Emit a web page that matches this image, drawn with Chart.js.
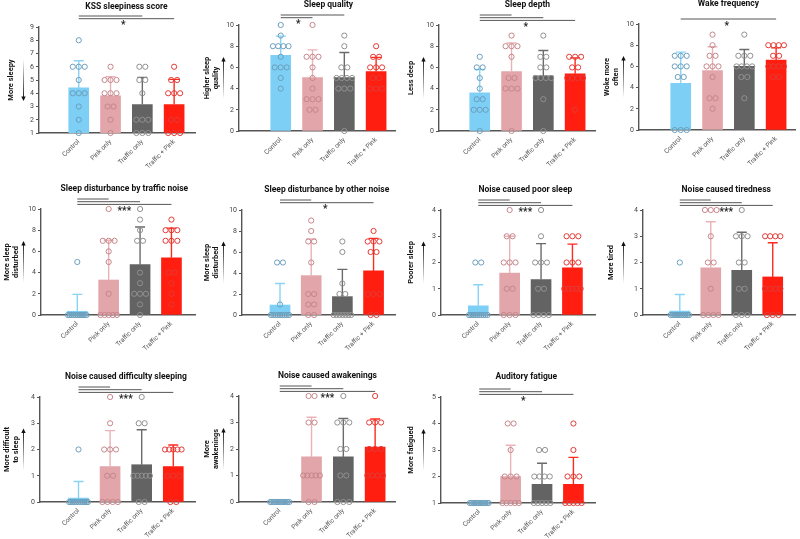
<!DOCTYPE html>
<html>
<head>
<meta charset="utf-8">
<script src="https://cdn.jsdelivr.net/npm/chart.js@4.4.0/dist/chart.umd.min.js"></script>
<style>
  body { margin: 0; background: #fff; width: 800px; height: 539px; overflow: hidden; position: relative; }
  canvas { position: absolute; }
</style>
</head>
<body>
<script>
const groups = ['Control', 'Pink only', 'Traffic only', 'Traffic + Pink'];
const barColors = ['#7ecff5', '#e2a6aa', '#636363', '#ff1e10'];
const errColors = ['#8ad3f6', '#e9b2b6', '#6b6b6b', '#ff2a1c'];
const dotColors = ['#6b9fbd', '#c6858b', '#909090', '#e33a35'];

// KSS sleepiness score
const kssMean = [4.4, 3.8, 3.15, 3.15];
const kssSD = [2.05, 1.45, 2.05, 1.9];
const kssPoints = [[8, 6, 6, 6, 5, 4, 4, 4, 3, 2, 1], [6, 5, 5, 5, 4, 4, 4, 3, 3, 2, 1], [6, 6, 5, 5, 4, 2, 2, 2, 1, 1, 1], [6, 5, 5, 4, 4, 4, 2, 2, 1, 1, 1]];

// Sleep quality
const qualityMean = [7.15, 5.05, 5.05, 5.6];
const qualitySD = [1.8, 2.6, 2.35, 1.35];
const qualityPoints = [[10, 9, 8, 8, 8, 8, 7, 6, 6, 6, 5, 4], [10, 7, 7, 7, 6, 5, 4, 3, 3, 3, 2, 2], [9, 8, 6, 6, 5, 5, 5, 5, 4, 4, 4, 0], [8, 7, 7, 6, 6, 6, 5, 5, 4, 4, 4]];

// Sleep depth
const depthMean = [3.6, 5.6, 5.2, 5.4];
const depthSD = [2.2, 2.7, 2.4, 1.5];
const depthPoints = [[7, 6, 6, 5, 4, 3, 3, 2, 2, 2, 0], [9, 8, 8, 8, 7, 5, 5, 4, 4, 4, 0], [9, 7, 7, 6, 6, 5, 5, 5, 5, 3, 0], [7, 7, 7, 6, 6, 5, 5, 5, 5, 2]];

// Wake frequency
const wakeMean = [4.4, 5.6, 6.0, 6.6];
const wakeSD = [2.95, 2.25, 1.6, 1.15];
const wakePoints = [[7, 7, 7, 6, 6, 6, 5, 5, 0, 0, 0], [9, 8, 7, 7, 6, 6, 6, 5, 3, 3, 2], [9, 7, 7, 7, 6, 6, 6, 6, 5, 5, 3], [8, 8, 8, 8, 7, 7, 6, 6, 6, 6, 5, 5]];

// Sleep disturbance by traffic noise
const trafficMean = [0.35, 3.3, 4.75, 5.4];
const trafficSD = [1.6, 3.75, 3.55, 2.8];
const trafficPoints = [[5, 0, 0, 0, 0, 0, 0, 0, 0, 0, 0, 0], [10, 7, 7, 7, 6, 5, 2, 0, 0, 0, 0, 0], [10, 9, 8, 7, 7, 4, 3, 2, 2, 2, 1, 0], [9, 8, 8, 8, 7, 7, 7, 4, 4, 3, 2, 1]];

// Sleep disturbance by other noise
const otherMean = [0.95, 3.75, 1.75, 4.2];
const otherSD = [2.05, 3.5, 2.6, 3.1];
const otherPoints = [[5, 5, 1, 0, 0, 0, 0, 0, 0, 0, 0, 0], [9, 8, 7, 7, 5, 2, 2, 1, 1, 0, 0], [7, 6, 3, 2, 2, 0, 0, 0, 0, 0, 0, 0], [8, 7, 7, 7, 6, 6, 2, 2, 2, 0, 0]];

// Noise caused poor sleep
const poorMean = [0.35, 1.6, 1.35, 1.8];
const poorSD = [0.8, 1.4, 1.37, 0.9];
const poorPoints = [[2, 2, 0, 0, 0, 0, 0, 0, 0, 0, 0, 0], [4, 3, 3, 2, 2, 2, 1, 1, 0, 0, 0], [4, 3, 2, 2, 2, 1, 1, 0, 0, 0, 0], [3, 3, 3, 2, 2, 2, 1, 1, 1, 1, 1]];

// Noise caused tiredness
const tiredMean = [0.15, 1.8, 1.7, 1.45];
const tiredSD = [0.63, 1.75, 1.45, 1.3];
const tiredPoints = [[2, 0, 0, 0, 0, 0, 0, 0, 0, 0, 0, 0], [4, 4, 4, 3, 2, 2, 1, 0, 0, 0, 0], [4, 3, 3, 3, 2, 2, 1, 1, 0, 0, 0], [3, 3, 3, 3, 1, 1, 1, 1, 0, 0, 0]];

// Noise caused difficulty sleeping
const difficultyMean = [0.15, 1.35, 1.42, 1.35];
const difficultySD = [0.63, 1.37, 1.33, 0.82];
const difficultyPoints = [[2, 0, 0, 0, 0, 0, 0, 0, 0, 0, 0, 0], [4, 3, 2, 2, 2, 1, 1, 0, 0, 0, 0], [4, 3, 3, 1, 1, 1, 1, 1, 0, 0], [2, 2, 2, 2, 2, 1, 1, 1, 0, 0]];

// Noise caused awakenings
const awakeMean = [0.03, 1.7, 1.7, 2.07];
const awakeSD = [0, 1.5, 1.45, 1.06];
const awakePoints = [[0, 0, 0, 0, 0, 0, 0, 0, 0, 0, 0, 0], [4, 4, 3, 3, 1, 1, 1, 1, 1, 0, 0], [4, 3, 3, 3, 2, 2, 1, 1, 0, 0, 0], [4, 3, 3, 3, 2, 2, 2, 1, 1, 1, 1]];

// Auditory fatigue
const fatigueMean = [1.02, 2.0, 1.7, 1.7];
const fatigueSD = [0, 1.18, 0.8, 1.02];
const fatiguePoints = [[1, 1, 1, 1, 1, 1, 1, 1, 1, 1, 1, 1], [4, 4, 3, 2, 2, 2, 1, 1, 1, 1, 1], [3, 3, 2, 2, 2, 2, 1, 1, 1, 1, 1], [4, 3, 2, 2, 2, 1, 1, 1, 1, 1]];

const panels = [
  { title: 'KSS sleepiness score', yTitle: ['More sleepy'], dir: 'down', mean: kssMean, sd: kssSD, pts: kssPoints,
    min: 1, max: 9, col: 0, row: 0, left: 39, ctrl: 79, top: 27, bottom: 133, brackets: [2, 3], bOff: 11, star: '*', starX: 1.4 },
  { title: 'Sleep quality', yTitle: ['Higher sleep', 'quality'], dir: 'up', mean: qualityMean, sd: qualitySD, pts: qualityPoints,
    min: 0, max: 10, col: 1, row: 0, left: 39, ctrl: 81, top: 25, bottom: 131, brackets: [2, 1], bOff: 10, star: '*', starX: 0.55 },
  { title: 'Sleep depth', yTitle: ['Less deep'], dir: 'up', mean: depthMean, sd: depthSD, pts: depthPoints,
    min: 0, max: 10, col: 2, row: 0, left: 39, ctrl: 80, top: 25, bottom: 131, brackets: [1, 2, 3], bOff: 10, star: '*', starX: 1.45 },
  { title: 'Wake frequency', yTitle: ['Woke more', 'often'], dir: 'up', mean: wakeMean, sd: wakeSD, pts: wakePoints,
    min: 0, max: 10, col: 3, row: 0, left: 39, ctrl: 81, top: 24, bottom: 130, brackets: [3], bOff: 5, star: '*', starX: 1.45 },
  { title: 'Sleep disturbance by traffic noise', yTitle: ['More sleep', 'disturbed'], dir: 'up', mean: trafficMean, sd: trafficSD, pts: trafficPoints,
    min: 0, max: 10, col: 0, row: 1, left: 41, ctrl: 78, top: 29, bottom: 135, brackets: [1, 2, 3], bOff: 10, star: '***', starX: 1.5 },
  { title: 'Sleep disturbance by other noise', yTitle: ['More sleep', 'disturbed'], dir: 'up', mean: otherMean, sd: otherSD, pts: otherPoints,
    min: 0, max: 10, col: 1, row: 1, left: 42, ctrl: 81, top: 30, bottom: 135, brackets: [1, 3], bOff: 10, star: '*', starX: 1.45 },
  { title: 'Noise caused poor sleep', yTitle: ['Poorer sleep'], dir: 'up', mean: poorMean, sd: poorSD, pts: poorPoints,
    min: 0, max: 4, col: 2, row: 1, left: 41, ctrl: 79, top: 30, bottom: 135, brackets: [1, 2, 3], bOff: 10, star: '***', starX: 1.5 },
  { title: 'Noise caused tiredness', yTitle: ['More tired'], dir: 'up', mean: tiredMean, sd: tiredSD, pts: tiredPoints,
    min: 0, max: 4, col: 3, row: 1, left: 43, ctrl: 81, top: 30, bottom: 135, brackets: [1, 2, 3], bOff: 10, star: '***', starX: 1.5 },
  { title: 'Noise caused difficulty sleeping', yTitle: ['More difficult', 'to sleep'], dir: 'up', mean: difficultyMean, sd: difficultySD, pts: difficultyPoints,
    min: 0, max: 4, col: 0, row: 2, left: 40, ctrl: 79, top: 37, bottom: 142, brackets: [1, 2, 3], bOff: 10, star: '***', starX: 1.5 },
  { title: 'Noise caused awakenings', yTitle: ['More', 'awakenings'], dir: 'up', mean: awakeMean, sd: awakeSD, pts: awakePoints,
    min: 0, max: 4, col: 1, row: 2, left: 39, ctrl: 80, top: 36, bottom: 142, brackets: [1, 2, 3], bOff: 10, star: '***', starX: 1.5 },
  { title: 'Auditory fatigue', yTitle: ['More fatigued'], dir: 'up', mean: fatigueMean, sd: fatigueSD, pts: fatiguePoints,
    min: 1, max: 5, col: 2, row: 2, left: 41, ctrl: 80, top: 37, bottom: 143, brackets: [1, 2, 3], bOff: 8, star: '*', starX: 1.4 }
];

const UNIT = 32;       // px between group centres
const FONT = 'Roboto, "Liberation Sans", Arial, sans-serif';

// spread repeated values sideways so the circles don't sit on top of each other
function swarm(values, g) {
  const counts = {};
  values.forEach(v => { counts[v] = (counts[v] || 0) + 1; });
  const seen = {};
  return values.map(v => {
    const k = counts[v];
    const i = seen[v] = (seen[v] === undefined ? 0 : seen[v] + 1);
    const step = Math.min(6, 21 / k);
    return { x: g + (i - (k - 1) / 2) * step / UNIT, y: v };
  });
}

function errorBarPlugin(p) {
  return {
    id: 'errorBars',
    afterDatasetDraw(chart, args) {
      if (args.meta.type !== 'bar') return;
      const ctx = chart.ctx, ys = chart.scales.y, xs = chart.scales.x;
      ctx.save();
      ctx.lineWidth = 1.4;
      p.mean.forEach((m, i) => {
        if (!p.sd[i]) return;
        const x = xs.getPixelForValue(i);
        const y0 = ys.getPixelForValue(m);
        const y1 = ys.getPixelForValue(m + p.sd[i]);
        ctx.strokeStyle = errColors[i];
        ctx.beginPath();
        ctx.moveTo(x, y0); ctx.lineTo(x, y1);
        ctx.moveTo(x - 5, y1); ctx.lineTo(x + 5, y1);
        ctx.stroke();
      });
      ctx.restore();
    }
  };
}

function decorPlugin(p) {
  return {
    id: 'decor',
    afterDraw(chart) {
      const ctx = chart.ctx, xs = chart.scales.x, area = chart.chartArea;
      ctx.save();
      // title
      ctx.fillStyle = '#111';
      ctx.font = 'bold 8.5px ' + FONT;
      ctx.textAlign = 'center';
      ctx.textBaseline = 'middle';
      ctx.fillText(p.title, xs.getPixelForValue(1.5), area.top - 20);

      // significance brackets
      const x0 = xs.getPixelForValue(0);
      ctx.strokeStyle = '#555';
      ctx.lineWidth = 1;
      let y = area.top - p.bOff;
      p.brackets.forEach((g, i) => {
        y = area.top - p.bOff + i * 2.7;
        ctx.beginPath();
        ctx.moveTo(x0, y); ctx.lineTo(xs.getPixelForValue(g), y);
        ctx.stroke();
      });
      ctx.font = 'bold 10px ' + FONT;
      ctx.fillStyle = '#222';
      ctx.fillText(p.star, xs.getPixelForValue(p.starX), y + 7);

      // y-axis label
      const cy = (area.top + area.bottom) / 2;
      ctx.font = 'bold 7.5px ' + FONT;
      ctx.fillStyle = '#111';
      ctx.translate(11.5, cy);
      ctx.rotate(-Math.PI / 2);
      p.yTitle.forEach((line, i) => {
        ctx.fillText(line, 0, (i - (p.yTitle.length - 1) / 2) * 8.5);
      });
      ctx.setTransform(1, 0, 0, 1, 0, 0);

      // arrow
      const ax = 23.5, tail = p.dir === 'up' ? cy + 21 : cy - 21, head = p.dir === 'up' ? cy - 21 : cy + 21;
      const s = p.dir === 'up' ? 1 : -1;
      const grad = ctx.createLinearGradient(0, tail, 0, head);
      grad.addColorStop(0, 'rgba(0,0,0,0)');
      grad.addColorStop(1, '#111');
      ctx.strokeStyle = grad;
      ctx.lineWidth = 1;
      ctx.beginPath();
      ctx.moveTo(ax, tail); ctx.lineTo(ax, head + s * 3);
      ctx.stroke();
      ctx.fillStyle = '#111';
      ctx.beginPath();
      ctx.moveTo(ax, head);
      ctx.lineTo(ax - 2.2, head + s * 4.5);
      ctx.lineTo(ax + 2.2, head + s * 4.5);
      ctx.closePath();
      ctx.fill();
      ctx.restore();
    }
  };
}

function makePanel(p) {
  const cv = document.createElement('canvas');
  cv.width = 200; cv.height = 180;
  cv.style.left = (p.col * 200) + 'px';
  cv.style.top = (p.row * 180) + 'px';
  document.body.appendChild(cv);

  const xMin = -(p.ctrl - p.left) / UNIT;
  const xMax = xMin + 157 / UNIT;

  const datasets = [{
    type: 'bar',
    data: p.mean.map((m, i) => ({ x: i, y: m })),
    backgroundColor: barColors,
    barThickness: 20,
    order: 2
  }];
  p.pts.forEach((vals, g) => {
    datasets.push({
      type: 'scatter',
      data: swarm(vals, g),
      pointRadius: 2.6,
      pointBorderWidth: 1,
      borderColor: dotColors[g],
      backgroundColor: 'rgba(0,0,0,0)',
      clip: false,
      order: 1
    });
  });

  new Chart(cv, {
    type: 'bar',
    data: { datasets },
    options: {
      responsive: false,
      animation: false,
      devicePixelRatio: 1,
      layout: { padding: { top: p.top, left: 0, right: 200 - p.left - 157, bottom: 0 } },
      plugins: { legend: { display: false }, tooltip: { enabled: false } },
      scales: {
        x: {
          type: 'linear',
          offset: false,
          min: xMin, max: xMax,
          grid: { display: false, offset: false },
          border: { display: true, color: '#555', width: 1.4 },
          afterBuildTicks: s => { s.ticks = [0, 1, 2, 3].map(v => ({ value: v })); },
          afterFit: s => { s.height = 180 - p.bottom; },
          ticks: {
            autoSkip: false,
            minRotation: 45, maxRotation: 45,
            padding: -3,
            color: '#555',
            font: { size: 6.6, family: FONT },
            callback: v => groups[v]
          }
        },
        y: {
          min: p.min, max: p.max,
          afterFit: s => { s.width = p.left; },
          grid: { display: true, drawOnChartArea: false, drawTicks: true, tickLength: 3, color: '#555', lineWidth: 1 },
          border: { display: true, color: '#555', width: 1.4 },
          ticks: { stepSize: 1, padding: 2, color: '#444', font: { size: 7, family: FONT } }
        }
      }
    },
    plugins: [errorBarPlugin(p), decorPlugin(p)]
  });
}

panels.forEach(makePanel);
</script>
</body>
</html>
